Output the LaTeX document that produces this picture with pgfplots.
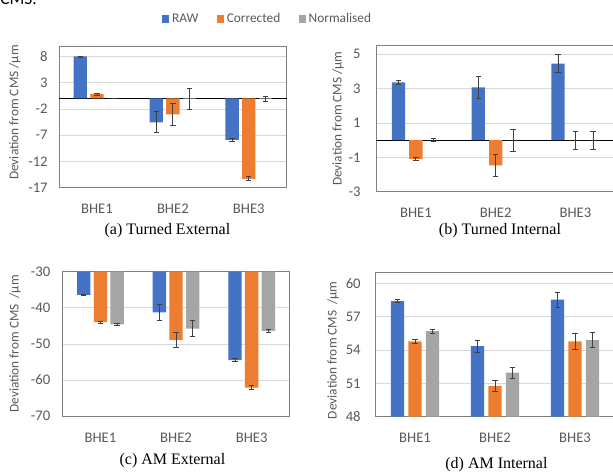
\documentclass[border=0pt]{standalone}
\usepackage{fontspec}
\setmainfont{Carlito}
\newfontfamily\timesfont{Liberation Serif}
\usepackage{pgfplots}
\pgfplotsset{compat=1.18}
\definecolor{rawblue}{HTML}{4472C4}
\definecolor{corrorange}{HTML}{ED7D31}
\definecolor{normgray}{HTML}{A5A5A5}
\definecolor{gridgray}{HTML}{D9D9D9}
\definecolor{boxgray}{HTML}{808080}
\definecolor{tickgray}{HTML}{595959}
\definecolor{errgray}{HTML}{404040}
\pgfplotsset{
  panel/.style={
    scale only axis,
    anchor=south west,
    ybar, bar width=10pt,
    xmin=-0.5, xmax=2.5,
    xtick={0,1,2}, xticklabels={BHE1,BHE2,BHE3},
    major tick length=0pt,
    ymajorgrids,
    grid style={draw=gridgray, line width=0.5pt},
    axis line style={draw=boxgray, line width=0.6pt},
    tick label style={font=\fontsize{11}{13}\selectfont, text=tickgray},
    xticklabel style={yshift=-9pt},
    /pgf/number format/assume math mode=true,
    ylabel style={font=\fontsize{10}{12}\selectfont, text=tickgray, anchor=center},
    xlabel style={font=\timesfont\fontsize{12}{14}\selectfont, text=black, anchor=center},
    every axis plot/.append style={draw=none,
      error bars/y dir=both, error bars/y explicit,
      error bars/error mark=-,
      error bars/error bar style={draw=errgray, line width=0.6pt},
      error bars/error mark options={rotate=90, draw=errgray, line width=0.6pt, mark size=2pt}},
  },
  zeroline/.style={
    extra y ticks={0}, extra y tick labels={},
    extra y tick style={grid=major, major grid style={draw=black, line width=0.6pt}},
  },
}
\begin{document}
\begin{tikzpicture}
\useasboundingbox (0,0) rectangle (459.75pt,354.75pt);
\node[anchor=base west, inner sep=0pt, font=\fontsize{13}{15}\selectfont] at (0pt,351pt) {CMS.};

% (a) Turned External
\begin{axis}[panel, ybar=2.5pt,
  at={(44.25pt,213.98pt)}, width=170.8pt, height=106.3pt,
  ymin=-17, ymax=10, ytick={-17,-12,-7,-2,3,8}, zeroline,
  yticklabel style={xshift=-5pt},
  ylabel={Deviation from CMS /µm},
  ylabel style={at={(axis description cs:-0.194,0.53)}},
  xlabel={(a) Turned External},
  xlabel style={at={(axis description cs:0.476,-0.306)}},
  legend style={at={(axis description cs:0.918,1.19)}, anchor=center,
    draw=none, fill=none, legend columns=3,
    font=\fontsize{10}{12}\selectfont, text=tickgray,
    /tikz/every even column/.append style={column sep=12pt}},
]
\addlegendimage{legend image code/.code={\fill[rawblue] (0pt,-2.65pt) rectangle (5.3pt,2.65pt);}}
\addlegendentry{RAW}
\addlegendimage{legend image code/.code={\fill[corrorange] (0pt,-2.65pt) rectangle (5.3pt,2.65pt);}}
\addlegendentry{Corrected}
\addlegendimage{legend image code/.code={\fill[normgray] (0pt,-2.65pt) rectangle (5.3pt,2.65pt);}}
\addlegendentry{Normalised}
\addplot[fill=rawblue, bar shift=-12.5pt, forget plot] coordinates {(0,8.0) +- (0,0.1) (1,-4.55) +- (0,2.0) (2,-7.9) +- (0,0.3)};
\addplot[fill=corrorange, bar shift=0pt, forget plot] coordinates {(0,0.82) +- (0,0.15) (1,-3.03) +- (0,2.05) (2,-15.3) +- (0,0.4)};
\addplot[fill=normgray, bar shift=12.5pt, forget plot] coordinates {(0,0.02) +- (0,0.08) (1,-0.1) +- (0,2.05) (2,-0.1) +- (0,0.45)};
\end{axis}

% (b) Turned Internal
\begin{axis}[panel, ybar=3.1pt,
  at={(282pt,210.98pt)}, width=179.5pt, height=109.5pt,
  ymin=-3, ymax=5.5, ytick={-3,-1,1,3,5}, zeroline,
  yticklabel style={xshift=-8pt},
  ylabel={Deviation from CMS /µm},
  ylabel style={at={(axis description cs:-0.159,0.5)}},
  xlabel={(b) Turned Internal},
  xlabel style={at={(axis description cs:0.518,-0.267)}},
]
\addplot[fill=rawblue] coordinates {(0,3.37) +- (0,0.12) (1,3.08) +- (0,0.65) (2,4.46) +- (0,0.54)};
\addplot[fill=corrorange] coordinates {(0,-1.09) +- (0,0.1) (1,-1.47) +- (0,0.63) (2,0.0) +- (0,0.53)};
\addplot[fill=normgray] coordinates {(0,0.0) +- (0,0.1) (1,0.0) +- (0,0.64) (2,0.0) +- (0,0.53)};
\end{axis}

% (c) AM External
\begin{axis}[panel, ybar=2.5pt,
  at={(47pt,42.75pt)}, width=170.1pt, height=108.2pt,
  ymin=-70, ymax=-30, ytick={-70,-60,-50,-40,-30},
  yticklabel style={xshift=-5.75pt},
  ylabel={Deviation from CMS \ /µm},
  ylabel style={at={(axis description cs:-0.21,0.5)}},
  xlabel={(c) AM External},
  xlabel style={at={(axis description cs:0.484,-0.31)}},
]
\addplot[fill=rawblue] coordinates {(0,-36.4) +- (0,0.2) (1,-41.3) +- (0,2.2) (2,-54.5) +- (0,0.4)};
\addplot[fill=corrorange] coordinates {(0,-44.0) +- (0,0.2) (1,-48.9) +- (0,2.1) (2,-62.1) +- (0,0.5)};
\addplot[fill=normgray] coordinates {(0,-44.6) +- (0,0.2) (1,-45.8) +- (0,2.2) (2,-46.4) +- (0,0.5)};
\end{axis}

% (d) AM Internal
\begin{axis}[panel, ybar=3.1pt,
  at={(281.25pt,42.2pt)}, width=180pt, height=108.3pt,
  ymin=48, ymax=61, ytick={48,51,54,57,60},
  yticklabel style={xshift=-7.25pt},
  ylabel={Deviation from CMS \ /µm},
  ylabel style={at={(axis description cs:-0.175,0.46)}},
  xlabel={(d) AM Internal},
  xlabel style={at={(axis description cs:0.506,-0.334)}},
]
\addplot[fill=rawblue] coordinates {(0,58.41) +- (0,0.15) (1,54.36) +- (0,0.53) (2,58.54) +- (0,0.69)};
\addplot[fill=corrorange] coordinates {(0,54.78) +- (0,0.15) (1,50.76) +- (0,0.48) (2,54.78) +- (0,0.72)};
\addplot[fill=normgray] coordinates {(0,55.71) +- (0,0.17) (1,51.96) +- (0,0.51) (2,54.9) +- (0,0.69)};
\end{axis}
\end{tikzpicture}
\end{document}
